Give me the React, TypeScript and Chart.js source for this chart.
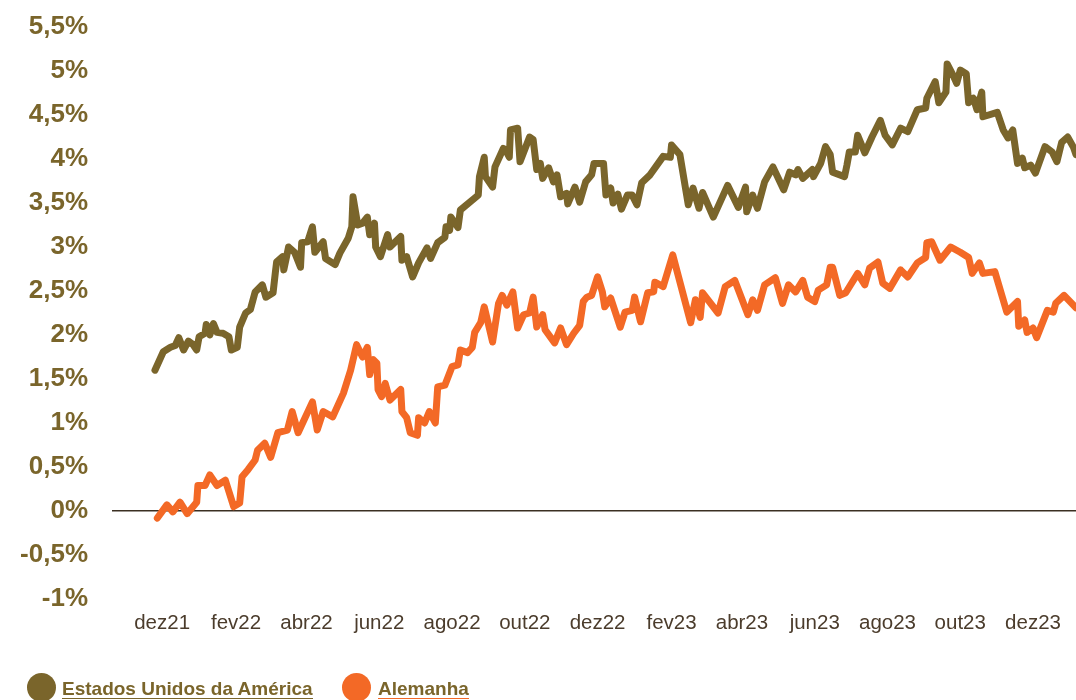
import React, { useEffect, useRef } from "react";
import { Chart, registerables } from "chart.js";

Chart.register(...registerables);

// Days counted from 1 Dec 2021
const US_DAYS = [
  -6, 1, 7, 11, 14, 18, 22, 26, 29, 31, 36, 37, 40, 43, 46, 51, 56, 58, 63, 65,
  70, 74, 78, 84, 87, 93, 95, 96, 101, 102, 106, 111, 116, 117, 122, 126, 128, 135, 137, 145,
  149, 156, 159, 160, 164, 168, 172, 174, 178, 179, 183, 189, 191, 200, 201, 205, 210, 215, 222, 225,
  231, 237, 238, 241, 242, 248, 250, 265, 266, 270, 271, 277, 279, 286, 288, 291, 292, 298, 300, 308,
  311, 314, 317, 319, 324, 328, 331, 334, 339, 340, 346, 350, 355, 360, 362, 370, 372, 376, 378, 382,
  385, 390, 394, 398, 402, 409, 420, 426, 427, 434, 441, 445, 450, 453, 462, 474, 483, 489, 490, 495,
  499, 505, 512, 521, 526, 531, 533, 537, 545, 546, 552, 556, 560, 562, 572, 574, 576, 581, 583, 589,
  595, 602, 606, 612, 619, 625, 633, 640, 641, 648, 651, 657, 658, 663, 666, 669, 674, 676, 680, 683,
  687, 688, 700, 705, 709, 713, 717, 721, 723, 728, 732, 740, 746, 750, 754, 759, 764, 766,
];
const US_VALUES = [
  1.6, 1.81, 1.86, 1.88, 1.97, 1.83, 1.93, 1.89, 1.83, 1.98, 2.02, 2.12, 2.0, 2.13, 2.03, 2.02, 1.98, 1.83, 1.86, 2.09,
  2.25, 2.29, 2.49, 2.57, 2.43, 2.48, 2.72, 2.83, 2.89, 2.74, 3.0, 2.94, 2.77, 3.05, 3.06, 3.23, 2.94, 3.06, 2.87, 2.8,
  2.93, 3.1, 3.23, 3.57, 3.25, 3.27, 3.34, 3.14, 3.27, 3.0, 2.89, 3.14, 3.0, 3.12, 2.85, 2.89, 2.66, 2.82, 2.99, 2.87,
  3.05, 3.11, 3.23, 3.19, 3.34, 3.22, 3.42, 3.59, 3.8, 4.02, 3.8, 3.68, 3.91, 4.12, 4.1, 4.02, 4.33, 4.35, 3.97, 4.25,
  4.22, 3.88, 3.95, 3.78, 3.9, 3.74, 3.82, 3.57, 3.61, 3.49, 3.68, 3.51, 3.74, 3.82, 3.95, 3.95, 3.59, 3.67, 3.5, 3.6,
  3.43, 3.59, 3.59, 3.48, 3.73, 3.82, 4.03, 4.02, 4.16, 4.05, 3.48, 3.67, 3.44, 3.62, 3.34, 3.7, 3.45, 3.68, 3.4, 3.59,
  3.44, 3.74, 3.91, 3.65, 3.85, 3.82, 3.88, 3.78, 3.88, 3.8, 3.95, 4.14, 4.05, 3.85, 3.8, 3.93, 4.08, 4.08, 4.27, 4.07,
  4.25, 4.44, 4.27, 4.16, 4.35, 4.31, 4.56, 4.58, 4.69, 4.88, 4.64, 4.76, 5.08, 4.95, 4.86, 5.01, 4.97, 4.64, 4.69, 4.56,
  4.76, 4.48, 4.53, 4.33, 4.24, 4.33, 3.95, 4.01, 3.9, 3.93, 3.84, 4.14, 4.08, 3.97, 4.19, 4.25, 4.13, 4.05,
];

const DE_DAYS = [
  -4, 4, 9, 15, 21, 29, 30, 36, 40, 46, 53, 60, 65, 67, 72, 78, 80, 86, 91, 97,
  105, 109, 114, 126, 130, 135, 143, 152, 158, 163, 168, 172, 174, 177, 180, 181, 184, 187, 191, 200,
  201, 205, 208, 214, 215, 220, 224, 229, 231, 237, 243, 248, 250, 256, 260, 262, 267, 270, 273, 277,
  282, 285, 289, 294, 298, 303, 308, 311, 314, 319, 321, 329, 334, 339, 345, 350, 353, 356, 360, 365,
  369, 371, 376, 384, 388, 394, 396, 401, 407, 412, 413, 420, 428, 443, 447, 451, 453, 466, 472, 480,
  491, 495, 499, 505, 514, 520, 525, 531, 537, 541, 547, 550, 557, 560, 562, 568, 573, 583, 589, 593,
  600, 604, 610, 619, 625, 633, 640, 641, 645, 652, 661, 669, 676, 679, 685, 688, 698, 708, 717, 718,
  723, 725, 730, 733, 742, 747, 749, 756, 766,
];
const DE_VALUES = [
  -0.08, 0.07, -0.01, 0.1, -0.03, 0.1, 0.29, 0.29, 0.41, 0.29, 0.35, 0.05, 0.09, 0.39, 0.47, 0.58, 0.69, 0.77, 0.61, 0.89,
  0.92, 1.13, 0.89, 1.24, 0.92, 1.13, 1.07, 1.34, 1.6, 1.89, 1.75, 1.86, 1.55, 1.72, 1.68, 1.38, 1.3, 1.45, 1.26, 1.38,
  1.13, 1.06, 0.89, 0.86, 1.06, 1.0, 1.13, 1.0, 1.41, 1.43, 1.64, 1.66, 1.83, 1.8, 1.86, 2.03, 2.14, 2.32, 2.15, 1.92,
  2.36, 2.45, 2.34, 2.49, 2.08, 2.23, 2.25, 2.43, 2.09, 2.23, 2.06, 1.91, 2.08, 1.89, 2.02, 2.11, 2.38, 2.43, 2.45, 2.66,
  2.49, 2.32, 2.42, 2.09, 2.26, 2.28, 2.43, 2.15, 2.48, 2.49, 2.6, 2.55, 2.91, 2.14, 2.4, 2.2, 2.48, 2.25, 2.55, 2.62,
  2.23, 2.4, 2.28, 2.57, 2.65, 2.36, 2.57, 2.49, 2.62, 2.43, 2.38, 2.51, 2.57, 2.77, 2.77, 2.45, 2.48, 2.7, 2.57, 2.76,
  2.83, 2.59, 2.53, 2.74, 2.66, 2.82, 2.88, 3.05, 3.06, 2.85, 3.0, 2.94, 2.88, 2.7, 2.82, 2.7, 2.72, 2.26, 2.38, 2.1,
  2.17, 2.03, 2.08, 1.97, 2.28, 2.26, 2.36, 2.45, 2.31,
];

const TICK_DAYS = [0, 62, 121, 182, 243, 304, 365, 427, 486, 547, 608, 669, 730];
const TICK_LABELS = [
  "dez21", "fev22", "abr22", "jun22", "ago22", "out22", "dez22",
  "fev23", "abr23", "jun23", "ago23", "out23", "dez23",
];

const SERIES_NAMES = ["Estados Unidos da América", "Alemanha"];
const OLIVE = "#7a652b";
const ORANGE = "#f36926";
const AXIS_TEXT = "#4b3c2c";

export default function App() {
  const canvasRef = useRef<HTMLCanvasElement | null>(null);

  useEffect(() => {
    const canvas = canvasRef.current;
    if (!canvas) return;
    const chart = new Chart(canvas, {
      type: "line",
      data: {
        datasets: [
          {
            label: SERIES_NAMES[0],
            data: US_DAYS.map((d, i) => ({ x: d, y: US_VALUES[i] })),
            borderColor: OLIVE,
            backgroundColor: OLIVE,
            borderWidth: 7,
            pointRadius: 0,
            tension: 0,
            borderJoinStyle: "round",
            borderCapStyle: "round",
          },
          {
            label: SERIES_NAMES[1],
            data: DE_DAYS.map((d, i) => ({ x: d, y: DE_VALUES[i] })),
            borderColor: ORANGE,
            backgroundColor: ORANGE,
            borderWidth: 7,
            pointRadius: 0,
            tension: 0,
            borderJoinStyle: "round",
            borderCapStyle: "round",
          },
        ],
      },
      options: {
        responsive: false,
        animation: false,
        devicePixelRatio: 1,
        layout: { padding: { top: 27, left: 0, right: 0, bottom: 0 } },
        plugins: { legend: { display: false }, tooltip: { enabled: false } },
        scales: {
          x: {
            type: "linear",
            min: -42,
            max: 766,
            afterBuildTicks: (scale: any) => {
              scale.ticks = TICK_DAYS.map((v) => ({ value: v }));
            },
            afterFit: (scale: any) => {
              scale.height = 101;
              scale.paddingLeft = 0;
              scale.paddingRight = 0;
            },
            grid: { display: false, drawTicks: false },
            border: { display: false },
            ticks: {
              autoSkip: false,
              maxRotation: 0,
              padding: 12,
              color: AXIS_TEXT,
              font: { family: "'Liberation Sans', Arial, sans-serif", size: 20.5 },
              callback: (value: any) => {
                const idx = TICK_DAYS.indexOf(Number(value));
                return idx >= 0 ? TICK_LABELS[idx] : "";
              },
            },
          },
          y: {
            min: -1,
            max: 5.5,
            afterFit: (scale: any) => {
              scale.width = 112;
              scale.paddingTop = 0;
              scale.paddingBottom = 0;
            },
            grid: {
              drawTicks: false,
              color: (ctx: any) => (ctx.tick && ctx.tick.value === 0 ? "#3b2f22" : "rgba(0,0,0,0)"),
              lineWidth: (ctx: any) => (ctx.tick && ctx.tick.value === 0 ? 1.5 : 0),
            },
            border: { display: false },
            ticks: {
              stepSize: 0.5,
              padding: 24,
              color: OLIVE,
              font: { family: "'Liberation Sans', Arial, sans-serif", size: 26, weight: "bold" },
              callback: (value: any) => String(Number(value)).replace(".", ",") + "%",
            },
          },
        },
      },
    });
    return () => chart.destroy();
  }, []);

  const legendText: React.CSSProperties = {
    position: "absolute",
    top: 679,
    fontFamily: "'Liberation Sans', Arial, sans-serif",
    fontWeight: "bold",
    fontSize: 19,
    lineHeight: "19px",
    color: OLIVE,
    whiteSpace: "nowrap",
  };

  return (
    <div style={{ position: "absolute", left: 0, top: 0, width: 1076, height: 700, overflow: "hidden", background: "#fff" }}>
      <canvas ref={canvasRef} width={1076} height={700} style={{ position: "absolute", left: 0, top: 0 }} />
      <div style={{ position: "absolute", left: 27, top: 673, width: 29, height: 29, borderRadius: "50%", background: OLIVE }} />
      <div style={{ ...legendText, left: 62, borderBottom: `1.2px solid ${OLIVE}` }}>{SERIES_NAMES[0]}</div>
      <div style={{ position: "absolute", left: 342, top: 673, width: 29, height: 29, borderRadius: "50%", background: ORANGE }} />
      <div style={{ ...legendText, left: 378, borderBottom: `1.2px solid ${ORANGE}` }}>{SERIES_NAMES[1]}</div>
    </div>
  );
}
